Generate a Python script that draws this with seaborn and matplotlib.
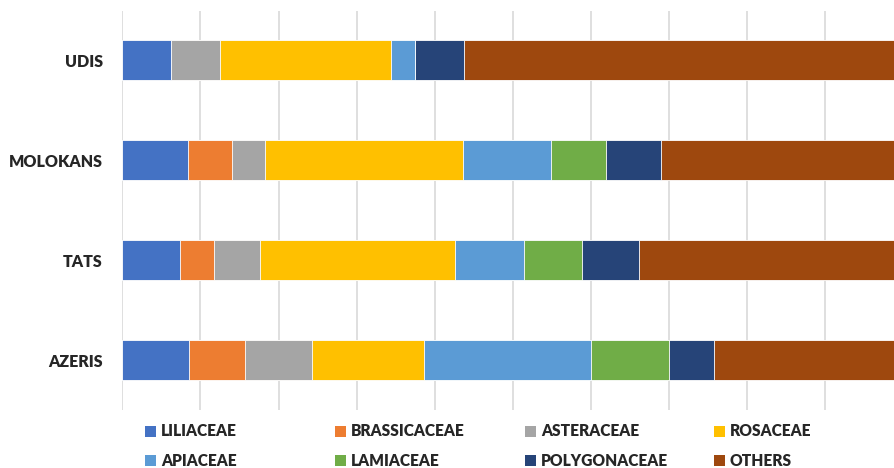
import matplotlib
matplotlib.use("Agg")
import matplotlib.pyplot as plt
from matplotlib.patches import Patch
import numpy as np
import pandas as pd
import seaborn as sns

# Share of plant families (%) in each community's list of used species
groups = ["UDIS", "MOLOKANS", "TATS", "AZERIS"]
families = ["LILIACEAE", "BRASSICACEAE", "ASTERACEAE", "ROSACEAE",
            "APIACEAE", "LAMIACEAE", "POLYGONACEAE", "OTHERS"]
udis = [6.25, 0.0, 6.25, 21.88, 3.13, 0.0, 6.25, 56.25]
molokans = [8.45, 5.63, 4.23, 25.35, 11.27, 7.04, 7.04, 30.99]
tats = [7.35, 4.41, 5.88, 25.00, 8.82, 7.35, 7.35, 33.82]
azeris = [8.57, 7.14, 8.57, 14.29, 21.43, 10.00, 5.71, 24.29]
colors = ["#4472C4", "#ED7D31", "#A5A5A5", "#FFC000",
          "#5B9BD5", "#70AD47", "#264478", "#9E480E"]

sns.set_style("white")
plt.rcParams["font.family"] = ["Lato", "DejaVu Sans"]
WEIGHT = "heavy"

table = pd.DataFrame([udis, molokans, tats, azeris], index=groups, columns=families)
cumulative = table.cumsum(axis=1)

fig = plt.figure(figsize=(8.95, 4.68), dpi=100)
ax = fig.add_axes([122.3 / 895, 58 / 468, 781.1 / 895, 399.5 / 468])

# Stacked bars: draw running totals from the outermost segment inwards
for fam, col in reversed(list(zip(families, colors))):
    df = pd.DataFrame({"group": groups, "value": cumulative[fam].values})
    sns.barplot(data=df, x="value", y="group", order=groups, orient="h",
                color=col, saturation=1, width=0.4, errorbar=None,
                edgecolor="white", linewidth=0.6, ax=ax)

ax.set_xlim(0, 100)
ax.set_xticks(np.arange(0, 101, 10))
ax.set_xticklabels([])
ax.tick_params(axis="x", length=0)
ax.tick_params(axis="y", length=0, pad=14, labelsize=11.5)
for lbl in ax.get_yticklabels():
    lbl.set_fontweight(WEIGHT)
ax.set_xlabel("")
ax.set_ylabel("")
ax.set_axisbelow(True)
ax.grid(axis="x", color="#d9d9d9", linewidth=1.2)
ax.grid(axis="y", visible=False)
for s in ax.spines.values():
    s.set_visible(False)

# Legend: four columns of two entries each
col_x = [145, 335, 525, 714]
for i, x in enumerate(col_x):
    idx = [i, i + 4]
    handles = [Patch(facecolor=colors[k], edgecolor="none") for k in idx]
    labels = [families[k] for k in idx]
    fig.legend(handles, labels, loc="upper left",
               bbox_to_anchor=(x / 895, 1 - 423.5 / 468),
               frameon=False, borderpad=0, borderaxespad=0,
               handlelength=0.72, handleheight=0.72, handletextpad=0.3,
               labelspacing=0.85, prop={"size": 11.2, "weight": WEIGHT})

fig.savefig("out.png", dpi=100)
